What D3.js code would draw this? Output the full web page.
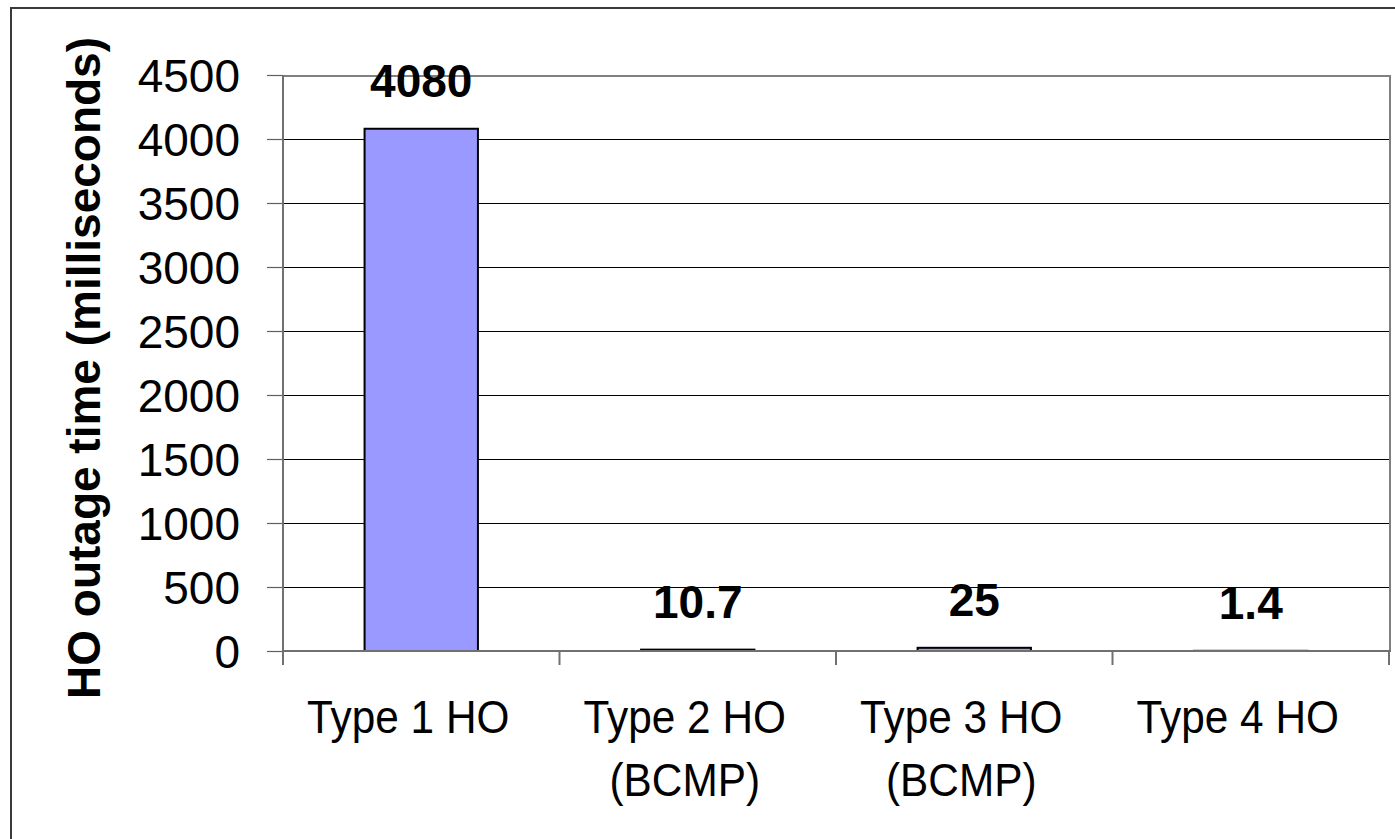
<!DOCTYPE html>
<html>
<head>
<meta charset="utf-8">
<script src="https://cdn.jsdelivr.net/npm/d3@7"></script>
<style>
  html, body { margin: 0; padding: 0; background: #fff; }
  svg { display: block; }
  text { font-family: "Liberation Sans", Arial, Helvetica, sans-serif; }
</style>
</head>
<body>
<svg id="chart" width="1395" height="839"></svg>
<script>
// ---- data ----
const categories = ["Type 1 HO", "Type 2 HO (BCMP)", "Type 3 HO (BCMP)", "Type 4 HO"];
const categoryLines = [["Type 1 HO"], ["Type 2 HO", "(BCMP)"], ["Type 3 HO", "(BCMP)"], ["Type 4 HO"]];
const values = [4080, 10.7, 25, 1.4];
const valueLabels = ["4080", "10.7", "25", "1.4"];
const yTicks = [0, 500, 1000, 1500, 2000, 2500, 3000, 3500, 4000, 4500];
const yTitle = "HO outage time (milliseconds)";

// ---- layout ----
const W = 1395, H = 839;
const plot = { left: 283, right: 1389, top: 75, bottom: 651 };
const svg = d3.select("#chart");

svg.append("rect").attr("x", 0).attr("y", 0).attr("width", W).attr("height", H).attr("fill", "#fff");
// outer chart border
svg.append("rect").attr("x", 11).attr("y", 8).attr("width", W).attr("height", H)
  .attr("fill", "none").attr("stroke", "#3a3a3a").attr("stroke-width", 2);

const x = d3.scaleBand().domain(categories).range([plot.left, plot.right])
  .paddingInner(0.59).paddingOuter(0.295);
const y = d3.scaleLinear().domain([0, 4500]).range([plot.bottom, plot.top]);

// gridlines
svg.append("g").selectAll("line").data(yTicks.filter(t => t > 0 && t < 4500)).join("line")
  .attr("x1", plot.left).attr("x2", plot.right)
  .attr("y1", d => Math.round(y(d)) + 0.5).attr("y2", d => Math.round(y(d)) + 0.5)
  .attr("stroke", "#000").attr("stroke-width", 1);

// bars
svg.append("g").selectAll("rect").data(values).join("rect")
  .attr("x", (d, i) => x(categories[i]))
  .attr("width", x.bandwidth())
  .attr("y", d => y(d))
  .attr("height", d => y(0) - y(d))
  .attr("fill", "#9999FF").attr("stroke", "#000").attr("stroke-width", 2);

// plot area border (top / right) in gray
svg.append("line").attr("x1", plot.left).attr("x2", plot.right + 1)
  .attr("y1", plot.top + 1).attr("y2", plot.top + 1).attr("stroke", "#808080").attr("stroke-width", 2);
svg.append("line").attr("x1", plot.right + 1).attr("x2", plot.right + 1)
  .attr("y1", plot.top).attr("y2", plot.bottom).attr("stroke", "#808080").attr("stroke-width", 2);

// y axis
const yAxis = d3.axisLeft(y).tickValues(yTicks).tickSize(16).tickPadding(27).tickFormat(d3.format("d"));
const gy = svg.append("g").attr("transform", `translate(${plot.left},0)`).call(yAxis);
gy.select(".domain").remove();
gy.selectAll(".tick line").attr("stroke", "#606060").attr("stroke-width", 1.2);
gy.selectAll(".tick text").attr("font-size", 46).attr("fill", "#000").attr("dy", "0.36em");
svg.append("line").attr("x1", plot.left).attr("x2", plot.left)
  .attr("y1", plot.top).attr("y2", plot.bottom + 14).attr("stroke", "#707070").attr("stroke-width", 2);

// x axis line and boundary ticks
svg.append("line").attr("x1", plot.left).attr("x2", plot.right + 2)
  .attr("y1", plot.bottom).attr("y2", plot.bottom).attr("stroke", "#707070").attr("stroke-width", 2);
const boundaries = d3.range(categories.length + 1).map(i => plot.left + i * (plot.right - plot.left) / categories.length);
svg.append("g").selectAll("line").data(boundaries.slice(1)).join("line")
  .attr("x1", d => d).attr("x2", d => d)
  .attr("y1", plot.bottom).attr("y2", plot.bottom + 14)
  .attr("stroke", "#707070").attr("stroke-width", 2);

// category labels
const lab = svg.append("g");
categoryLines.forEach((lines, i) => {
  const cx = x(categories[i]) + x.bandwidth() / 2 - 13;
  lines.forEach((ln, j) => {
    const t = lab.append("text")
      .attr("x", cx).attr("y", 733 + j * 63)
      .attr("text-anchor", "middle").attr("font-size", 46).attr("fill", "#000")
      .text(ln);
    const w = t.node().getComputedTextLength();
    t.attr("textLength", w * 0.92).attr("lengthAdjust", "spacingAndGlyphs");
  });
});

// value labels
svg.append("g").selectAll("text").data(values).join("text")
  .attr("x", (d, i) => x(categories[i]) + x.bandwidth() / 2)
  .attr("y", d => y(d) - 32)
  .attr("text-anchor", "middle").attr("font-size", 46).attr("font-weight", "bold").attr("fill", "#000")
  .text((d, i) => valueLabels[i]);

// y title
svg.append("text")
  .attr("transform", `translate(100,368) rotate(-90)`)
  .attr("text-anchor", "middle").attr("font-size", 46).attr("font-weight", "bold").attr("fill", "#000")
  .text(yTitle);
</script>
</body>
</html>
